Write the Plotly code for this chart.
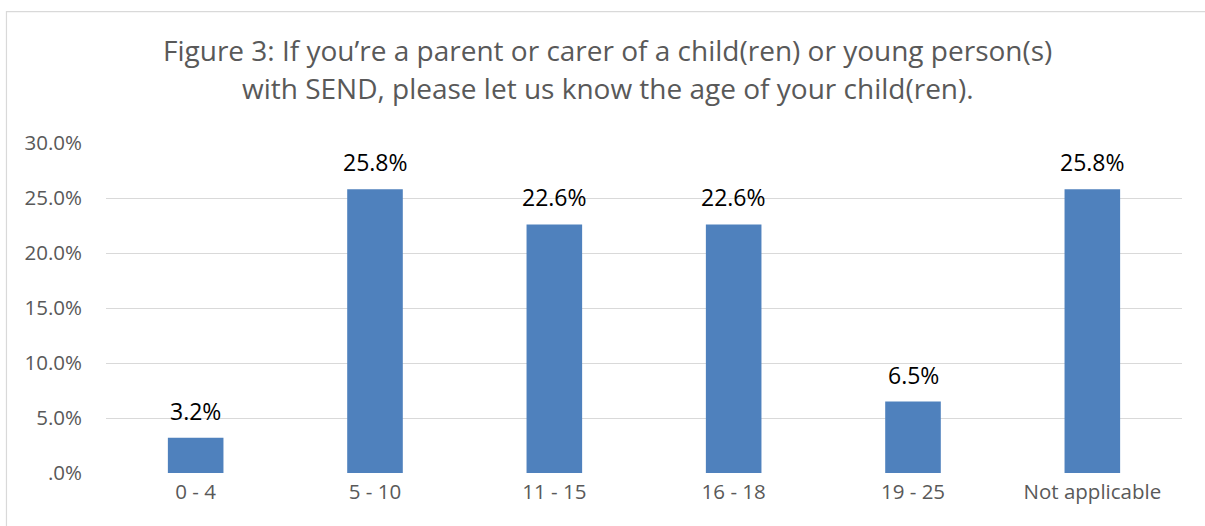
import plotly.graph_objects as go

# Age groups of children/young people and share of respondents
age_groups = ["0 - 4", "5 - 10", "11 - 15", "16 - 18", "19 - 25", "Not applicable"]
shares = [0.032, 0.258, 0.226, 0.226, 0.065, 0.258]
share_labels = ["3.2%", "25.8%", "22.6%", "22.6%", "6.5%", "25.8%"]

y_tick_values = [0.0, 0.05, 0.10, 0.15, 0.20, 0.25, 0.30]
y_tick_labels = [".0%", "5.0%", "10.0%", "15.0%", "20.0%", "25.0%", "30.0%"]

title_lines = [
    "Figure 3: If you\u2019re a parent or carer of a child(ren) or young person(s)",
    "with SEND, please let us know the age of your child(ren).",
]

FONT = "Open Sans, sans-serif"
GREY = "#595959"

fig = go.Figure()
fig.add_trace(go.Bar(
    x=age_groups,
    y=shares,
    marker=dict(color="#4f81bd", line=dict(width=0)),
    hoverinfo="skip",
))

# value labels above each bar
for cat, val, lab in zip(age_groups, shares, share_labels):
    fig.add_annotation(
        x=cat, y=val, text=lab, showarrow=False,
        yanchor="bottom", yshift=9,
        font=dict(family=FONT, size=23, color="#000000"),
    )

# two-line chart title
for line, ypos in zip(title_lines, [1.2818, 1.1667]):
    fig.add_annotation(
        xref="paper", yref="paper", x=0.4665, y=ypos,
        xanchor="center", yanchor="middle", showarrow=False,
        text=line, font=dict(family=FONT, size=28, color=GREY),
    )

# outer chart frame
fig.add_shape(
    type="rect", xref="paper", yref="paper",
    x0=-0.0925, x1=1.2, y0=-0.5, y1=1.398,
    line=dict(color="#d9d9d9", width=1.2), fillcolor="rgba(0,0,0,0)",
    layer="below",
)

fig.update_layout(
    width=1205, height=526,
    margin=dict(l=106, r=23, t=143, b=53),
    paper_bgcolor="white", plot_bgcolor="white",
    bargap=0.69,
    showlegend=False,
    xaxis=dict(
        showgrid=False, showline=False, ticks="",
        tickfont=dict(family=FONT, size=20.5, color=GREY),
        ticklabelstandoff=4,
    ),
    yaxis=dict(
        range=[0, 0.30],
        tickvals=y_tick_values, ticktext=y_tick_labels,
        showgrid=True, gridcolor="#d9d9d9", gridwidth=1.3,
        zeroline=False, showline=False, ticks="",
        tickfont=dict(family=FONT, size=20.5, color=GREY),
        ticklabelstandoff=23,
    ),
)

fig.write_html("out.html")
